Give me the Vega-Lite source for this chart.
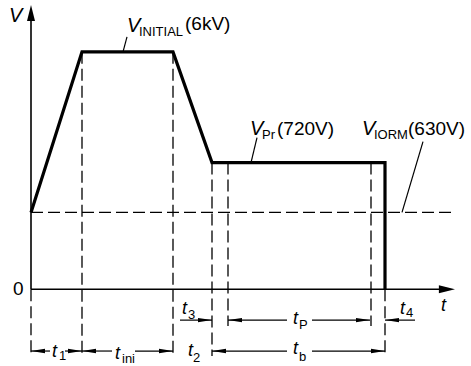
{
  "$schema": "https://vega.github.io/schema/vega-lite/v6.json",
  "width": 471,
  "height": 366,
  "padding": 0,
  "autosize": {"type": "fit", "contains": "padding"},
  "background": "white",
  "config": {"view": {"stroke": null}},
  "datasets": {
    "main": [
      {"i": 0, "t": 0, "v": 77},
      {"i": 1, "t": 51, "v": 238},
      {"i": 2, "t": 142, "v": 238},
      {"i": 3, "t": 181, "v": 127},
      {"i": 4, "t": 354, "v": 127},
      {"i": 5, "t": 354, "v": 0}
    ],
    "axes": [
      {"t": 0, "v": 0, "t2": 0, "v2": 272},
      {"t": 0, "v": 0, "t2": 410, "v2": 0}
    ],
    "dashed": [
      {"t": 0, "v": 0, "t2": 0, "v2": -67},
      {"t": 51, "v": 238, "t2": 51, "v2": -67},
      {"t": 142, "v": 238, "t2": 142, "v2": -67},
      {"t": 181, "v": 127, "t2": 181, "v2": -67},
      {"t": 197, "v": 127, "t2": 197, "v2": -37},
      {"t": 340, "v": 127, "t2": 340, "v2": -37},
      {"t": 354, "v": 0, "t2": 354, "v2": -67},
      {"t": 0, "v": 77, "t2": 421, "v2": 77}
    ],
    "thin": [
      {"t": 96, "v": 253, "t2": 92, "v2": 238},
      {"t": 226, "v": 152, "t2": 220, "v2": 127},
      {"t": 392, "v": 148, "t2": 371, "v2": 77},
      {"t": 149, "v": -31, "t2": 181, "v2": -31},
      {"t": 197, "v": -31, "t2": 256, "v2": -31},
      {"t": 281, "v": -31, "t2": 339, "v2": -31},
      {"t": 354, "v": -31, "t2": 384, "v2": -31},
      {"t": 0, "v": -62, "t2": 19, "v2": -62},
      {"t": 34, "v": -62, "t2": 51, "v2": -62},
      {"t": 51, "v": -62, "t2": 81, "v2": -62},
      {"t": 104, "v": -62, "t2": 142, "v2": -62},
      {"t": 181, "v": -62, "t2": 256, "v2": -62},
      {"t": 281, "v": -62, "t2": 354, "v2": -62}
    ],
    "arrows": [
      {"t": 0, "v": 285, "dir": "axisUp"},
      {"t": 424, "v": 0, "dir": "axisRight"},
      {"t": 181, "v": -31, "dir": "right"},
      {"t": 197, "v": -31, "dir": "left"},
      {"t": 339, "v": -31, "dir": "right"},
      {"t": 354, "v": -31, "dir": "left"},
      {"t": 0, "v": -62, "dir": "left"},
      {"t": 51, "v": -62, "dir": "right"},
      {"t": 51, "v": -62, "dir": "left"},
      {"t": 142, "v": -62, "dir": "right"},
      {"t": 181, "v": -62, "dir": "left"},
      {"t": 354, "v": -62, "dir": "right"}
    ],
    "vLabels": [
      {"t": 96, "v": 258, "text": "V"},
      {"t": 219, "v": 155, "text": "V"},
      {"t": 331, "v": 155, "text": "V"},
      {"t": -22, "v": 268, "text": "V"}
    ],
    "tLabels": [
      {"t": 21, "v": -68, "text": "t"},
      {"t": 84, "v": -70, "text": "t"},
      {"t": 157, "v": -67, "text": "t"},
      {"t": 151, "v": -25, "text": "t"},
      {"t": 262, "v": -35, "text": "t"},
      {"t": 262, "v": -65, "text": "t"},
      {"t": 369, "v": -25, "text": "t"},
      {"t": 410, "v": -22, "text": "t"}
    ],
    "subLabels": [
      {"t": 108, "v": 254, "text": "INITIAL"},
      {"t": 231, "v": 151, "text": "Pr"},
      {"t": 343, "v": 151, "text": "IORM"},
      {"t": 28, "v": -71, "text": "1"},
      {"t": 91, "v": -74, "text": "ini"},
      {"t": 162, "v": -73, "text": "2"},
      {"t": 157, "v": -30, "text": "3"},
      {"t": 268, "v": -40, "text": "P"},
      {"t": 268, "v": -72, "text": "b"},
      {"t": 375, "v": -28, "text": "4"}
    ],
    "numLabels": [
      {"t": 154, "v": 260, "text": "(6kV)"},
      {"t": 246, "v": 155, "text": "(720V)"},
      {"t": 377, "v": 155, "text": "(630V)"},
      {"t": -18, "v": -6, "text": "0"}
    ]
  },
  "layer": [
    {
      "data": {"name": "dashed"},
      "mark": {"type": "rule", "color": "black", "strokeWidth": 1.3, "strokeDash": [12, 5], "strokeCap": "butt"},
      "encoding": {
        "x": {"field": "t", "type": "quantitative", "scale": {"domain": [-31, 440], "nice": false, "zero": false}, "axis": null},
        "y": {"field": "v", "type": "quantitative", "scale": {"domain": [-76, 290], "nice": false, "zero": false}, "axis": null},
        "x2": {"field": "t2"},
        "y2": {"field": "v2"}
      }
    },
    {
      "data": {"name": "axes"},
      "mark": {"type": "rule", "color": "black", "strokeWidth": 1.6},
      "encoding": {
        "x": {"field": "t", "type": "quantitative", "scale": {"domain": [-31, 440], "nice": false, "zero": false}, "axis": null},
        "y": {"field": "v", "type": "quantitative", "scale": {"domain": [-76, 290], "nice": false, "zero": false}, "axis": null},
        "x2": {"field": "t2"},
        "y2": {"field": "v2"}
      }
    },
    {
      "data": {"name": "thin"},
      "mark": {"type": "rule", "color": "black", "strokeWidth": 1.2},
      "encoding": {
        "x": {"field": "t", "type": "quantitative", "scale": {"domain": [-31, 440], "nice": false, "zero": false}, "axis": null},
        "y": {"field": "v", "type": "quantitative", "scale": {"domain": [-76, 290], "nice": false, "zero": false}, "axis": null},
        "x2": {"field": "t2"},
        "y2": {"field": "v2"}
      }
    },
    {
      "data": {"name": "main"},
      "mark": {"type": "line", "color": "black", "strokeWidth": 3.2, "strokeJoin": "miter"},
      "encoding": {
        "x": {"field": "t", "type": "quantitative", "scale": {"domain": [-31, 440], "nice": false, "zero": false}, "axis": null},
        "y": {"field": "v", "type": "quantitative", "scale": {"domain": [-76, 290], "nice": false, "zero": false}, "axis": null},
        "order": {"field": "i", "type": "quantitative"}
      }
    },
    {
      "data": {"name": "arrows"},
      "mark": {"type": "point", "filled": true, "color": "black", "opacity": 1, "size": 196, "strokeWidth": 0},
      "encoding": {
        "x": {"field": "t", "type": "quantitative", "scale": {"domain": [-31, 440], "nice": false, "zero": false}, "axis": null},
        "y": {"field": "v", "type": "quantitative", "scale": {"domain": [-76, 290], "nice": false, "zero": false}, "axis": null},
        "shape": {
          "field": "dir", "type": "nominal", "legend": null,
          "scale": {
            "domain": ["axisUp", "axisRight", "left", "right"],
            "range": ["M0,0L-0.57,2.3L0.57,2.3Z", "M0,0L-2.3,-0.57L-2.3,0.57Z", "M0,0L2,-0.32L2,0.32Z", "M0,0L-2,-0.32L-2,0.32Z"]
          }
        }
      }
    },
    {
      "data": {"name": "vLabels"},
      "mark": {"type": "text", "font": "Liberation Sans", "fontStyle": "italic", "fontSize": 20, "align": "left", "baseline": "alphabetic", "color": "black"},
      "encoding": {
        "x": {"field": "t", "type": "quantitative", "scale": {"domain": [-31, 440], "nice": false, "zero": false}, "axis": null},
        "y": {"field": "v", "type": "quantitative", "scale": {"domain": [-76, 290], "nice": false, "zero": false}, "axis": null},
        "text": {"field": "text"}
      }
    },
    {
      "data": {"name": "tLabels"},
      "mark": {"type": "text", "font": "Liberation Sans", "fontStyle": "italic", "fontSize": 18, "align": "left", "baseline": "alphabetic", "color": "black"},
      "encoding": {
        "x": {"field": "t", "type": "quantitative", "scale": {"domain": [-31, 440], "nice": false, "zero": false}, "axis": null},
        "y": {"field": "v", "type": "quantitative", "scale": {"domain": [-76, 290], "nice": false, "zero": false}, "axis": null},
        "text": {"field": "text"}
      }
    },
    {
      "data": {"name": "subLabels"},
      "mark": {"type": "text", "font": "Liberation Sans", "fontSize": 13, "align": "left", "baseline": "alphabetic", "color": "black"},
      "encoding": {
        "x": {"field": "t", "type": "quantitative", "scale": {"domain": [-31, 440], "nice": false, "zero": false}, "axis": null},
        "y": {"field": "v", "type": "quantitative", "scale": {"domain": [-76, 290], "nice": false, "zero": false}, "axis": null},
        "text": {"field": "text"}
      }
    },
    {
      "data": {"name": "numLabels"},
      "mark": {"type": "text", "font": "Liberation Sans", "fontSize": 19, "align": "left", "baseline": "alphabetic", "color": "black"},
      "encoding": {
        "x": {"field": "t", "type": "quantitative", "scale": {"domain": [-31, 440], "nice": false, "zero": false}, "axis": null},
        "y": {"field": "v", "type": "quantitative", "scale": {"domain": [-76, 290], "nice": false, "zero": false}, "axis": null},
        "text": {"field": "text"}
      }
    }
  ]
}
